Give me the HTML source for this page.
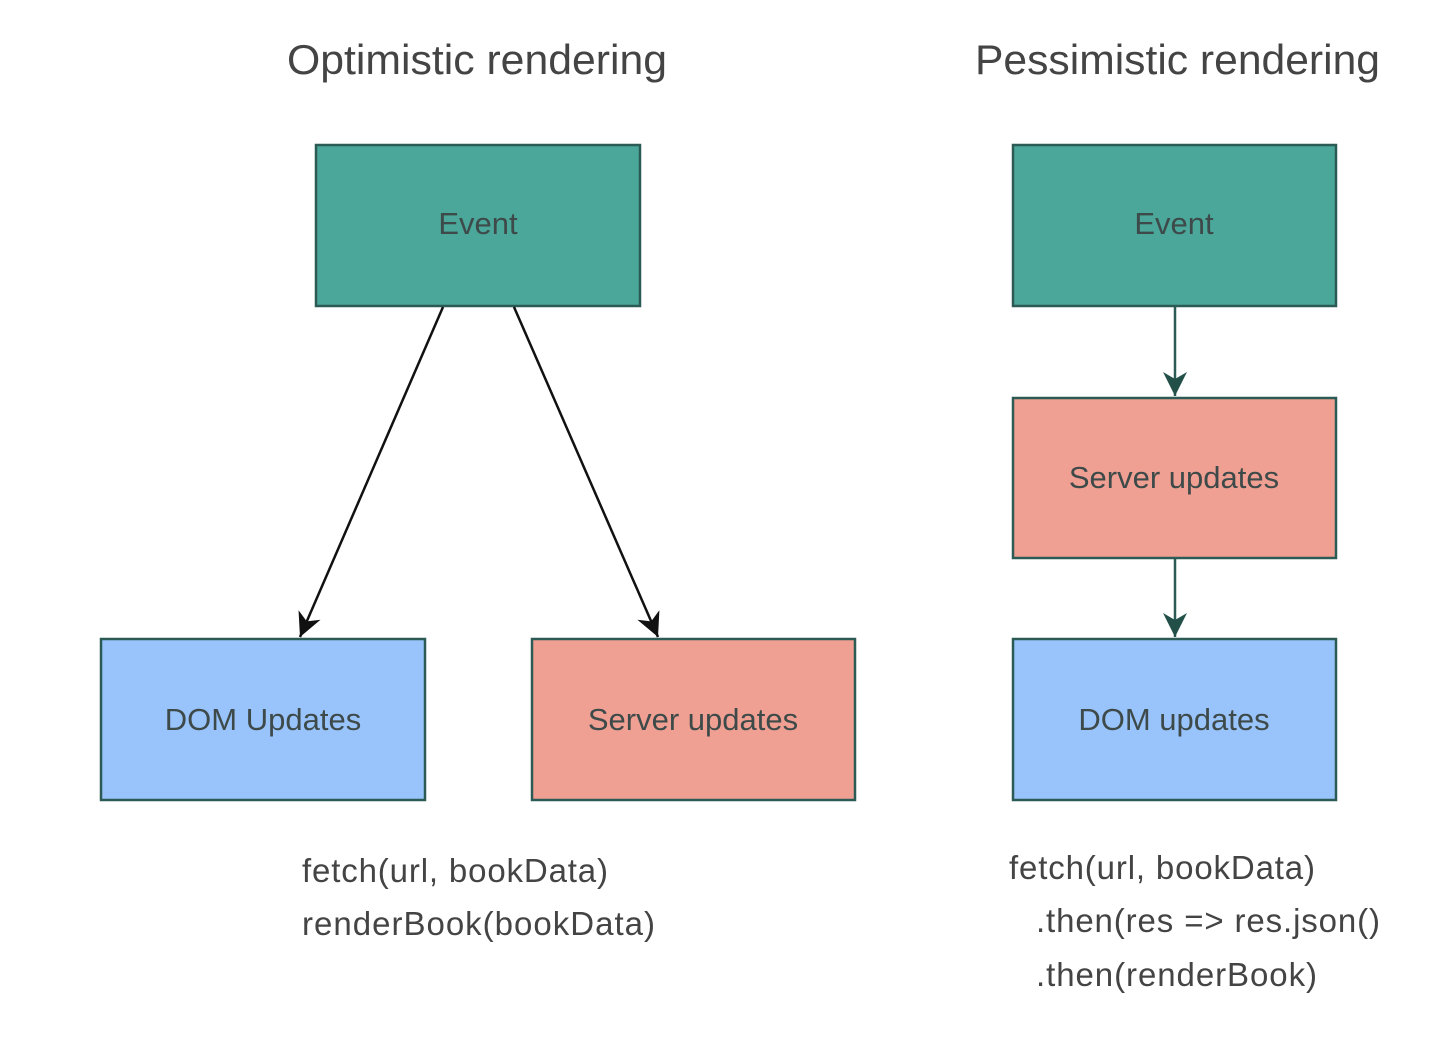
<!DOCTYPE html>
<html><head><meta charset="utf-8"><style>
html,body{margin:0;padding:0;background:#fff;}
svg{display:block;}
text{font-family:"Liberation Sans",sans-serif;}
</style></head><body>
<svg width="1444" height="1038" viewBox="0 0 1444 1038" xmlns="http://www.w3.org/2000/svg">
<defs>
<marker id="at" markerWidth="30" markerHeight="30" refX="24" refY="12" orient="auto" markerUnits="userSpaceOnUse"><path d="M0,0 L24,12 L0,24 L7,12 Z" fill="#234f49"/></marker>
<marker id="ak" markerWidth="30" markerHeight="30" refX="24" refY="12" orient="auto" markerUnits="userSpaceOnUse"><path d="M0,0 L24,12 L0,24 L7,12 Z" fill="#111"/></marker>
</defs>
<text x="287" y="74" font-size="42" fill="#444" textLength="380" lengthAdjust="spacingAndGlyphs">Optimistic rendering</text>
<text x="975" y="74" font-size="42" fill="#444" textLength="405" lengthAdjust="spacingAndGlyphs">Pessimistic rendering</text>
<g stroke="#2c5a55" stroke-width="2.5">
<rect x="316" y="145" width="324" height="161" fill="#4aa79a"/>
<rect x="101" y="639" width="324" height="161" fill="#98c3fb"/>
<rect x="532" y="639" width="323" height="161" fill="#f0a093"/>
<rect x="1013" y="145" width="323" height="161" fill="#4aa79a"/>
<rect x="1013" y="398" width="323" height="160" fill="#f0a093"/>
<rect x="1013" y="639" width="323" height="161" fill="#98c3fb"/>
</g>
<g font-size="31" fill="#3e4a49" text-anchor="middle">
<text x="478" y="234">Event</text>
<text x="263" y="730">DOM Updates</text>
<text x="693" y="730">Server updates</text>
<text x="1174" y="234">Event</text>
<text x="1174" y="488">Server updates</text>
<text x="1174" y="730">DOM updates</text>
</g>
<line x1="443" y1="307" x2="300" y2="637" stroke="#111" stroke-width="2.5" marker-end="url(#ak)"/>
<line x1="514" y1="307" x2="658" y2="637" stroke="#111" stroke-width="2.5" marker-end="url(#ak)"/>
<line x1="1175" y1="307" x2="1175" y2="396" stroke="#2c5a55" stroke-width="2.5" marker-end="url(#at)"/>
<line x1="1175" y1="559" x2="1175" y2="637" stroke="#2c5a55" stroke-width="2.5" marker-end="url(#at)"/>
<g font-size="33" fill="#444" lengthAdjust="spacingAndGlyphs">
<text x="302" y="882" textLength="306">fetch(url, bookData)</text>
<text x="302" y="935" textLength="353">renderBook(bookData)</text>
<text x="1009" y="879" textLength="306">fetch(url, bookData)</text>
<text x="1036" y="932" textLength="344">.then(res =&gt; res.json()</text>
<text x="1036" y="986" textLength="281">.then(renderBook)</text>
</g>
</svg>
</body></html>
